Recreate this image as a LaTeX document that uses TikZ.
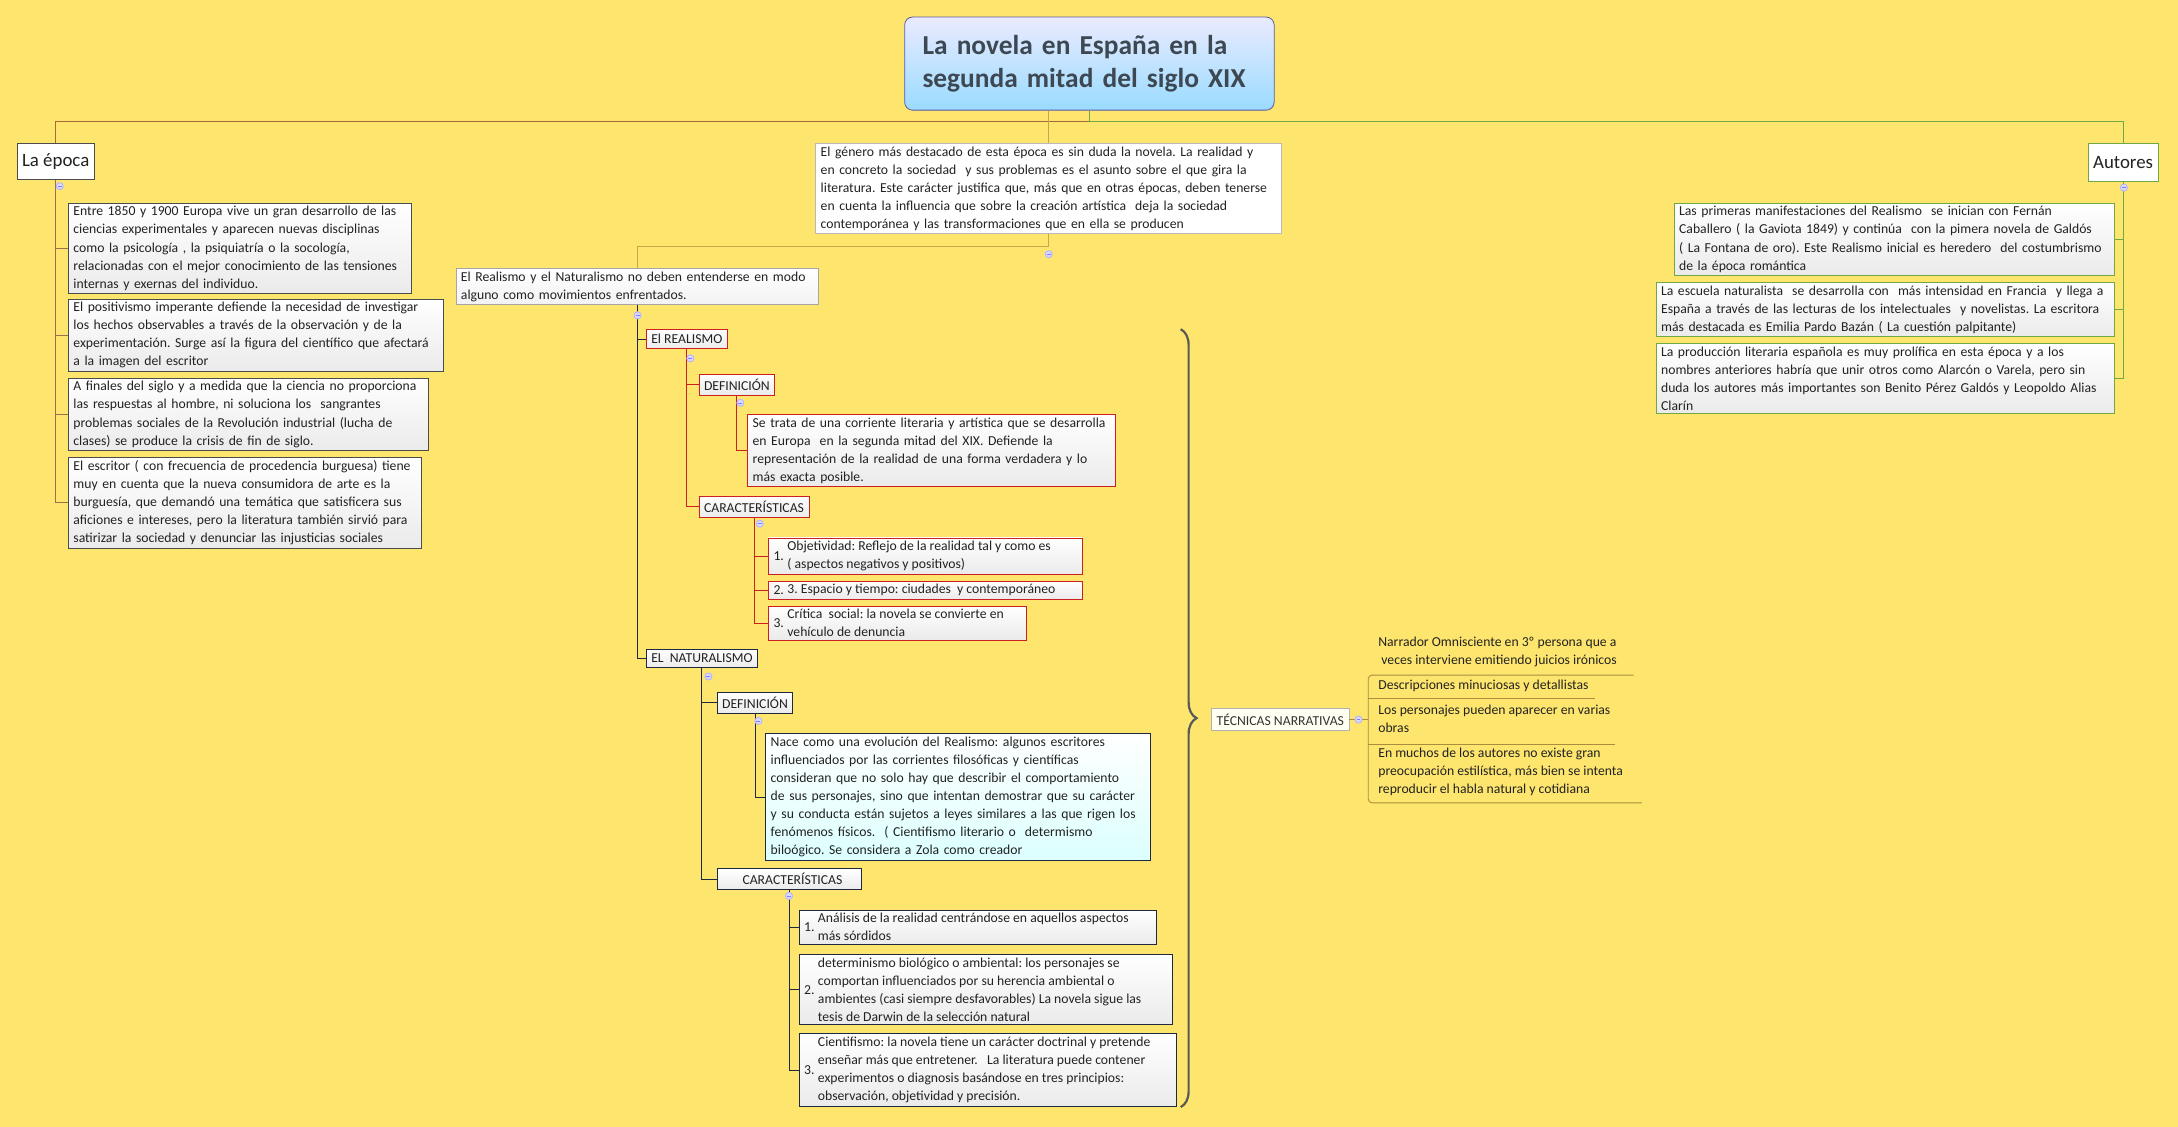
\documentclass[tikz,border=0pt]{standalone}
\usepackage{fontspec}
\setmainfont{Carlito}
\frenchspacing
\usetikzlibrary{decorations.pathreplacing,shadings}
\definecolor{bg}{HTML}{FEE66E}
\definecolor{brn}{HTML}{A8683A}
\definecolor{grn}{HTML}{6FA845}
\definecolor{tan}{HTML}{C9A54A}
\definecolor{rd}{HTML}{CC1F1F}
\definecolor{nv}{HTML}{1E2840}
\definecolor{ttl}{HTML}{3D4853}
\definecolor{txt}{HTML}{222222}
\tikzset{
 bx/.style={draw, anchor=north west, align=left, inner xsep=2.5pt, inner ysep=1.6pt, text=txt,
   font=\fontsize{6.9}{9.1}\selectfont, top color=white, bottom color=gray!16},
 lab/.style={inner ysep=2.4pt},
 ep/.style={bx, draw=gray!60!black},
 au/.style={bx, draw=grn},
 rb/.style={bx, draw=rd},
 nb/.style={bx, draw=nv},
 plain/.style={bx, draw=gray!70, top color=white, bottom color=white},
 lb/.style={draw=brn, line width=0.5pt},
 lg/.style={draw=grn, line width=0.5pt},
 lt/.style={draw=tan, line width=0.5pt},
 lr/.style={draw=rd, line width=0.5pt},
 ln/.style={draw=nv, line width=0.5pt},
 tog/.style={circle, draw=blue!30, fill=blue!15, inner sep=0pt, minimum size=3.6pt,
   path picture={\draw[blue!50, line width=0.3pt] ([xshift=-1pt]path picture bounding box.center) -- ([xshift=1pt]path picture bounding box.center);}},
 tl/.style={draw=tan!85!black, line width=0.45pt, rounded corners=2pt},
}
\newcommand\numit[3]{\parbox[c]{7pt}{#1}\parbox[c]{#2}{#3}}
\begin{document}
\begin{tikzpicture}[x=0.7pt,y=-0.7pt]
\fill[bg] (0,0) rectangle (1568,811);
\useasboundingbox (0,0) rectangle (1568,811);

% title
\node[draw=gray!70!blue, rounded corners=4pt, top color=blue!8, bottom color=blue!35!cyan!40, anchor=north west,
  minimum width=266*0.7pt, minimum height=67*0.7pt, align=left, text=ttl, text width=266*0.7pt-18pt,
  font=\fontsize{13.8}{16.5}\selectfont\bfseries, inner xsep=9pt] (title) at (651,12)
  {La novela en España en la\\segunda mitad del siglo XIX};

% main branches
\node[ep, font=\fontsize{9.5}{11}\selectfont, top color=white, bottom color=white, minimum height=26*0.7pt] (epoca) at (12,103) {La época};
\node[au, font=\fontsize{9.5}{11}\selectfont, top color=white, bottom color=white, minimum height=27*0.7pt] (autores) at (1503,103) {Autores};
\node[plain, draw=gray!55, text width=335*0.7pt-5pt] (central) at (587,103) {El género más destacado de esta época es sin duda la novela. La realidad y\\en concreto la sociedad\ \ y sus problemas es el asunto sobre el que gira la\\literatura. Este carácter justifica que, más que en otras épocas, deben tenerse\\en cuenta la influencia que sobre la creación artística\ \ deja la sociedad\\contemporánea y las transformaciones que en ella se producen};

\draw[lb] (title.south) -- ++(0,8) -| (epoca.north);
\draw[lg] (title.south) -- ++(0,8) -| (autores.north);
\draw[lt] (central.north) -- (central.north |- title.south);

% epoca children
\node[ep, text width=247*0.7pt-5pt] (e1) at (49,146) {Entre 1850 y 1900 Europa vive un gran desarrollo de las\\ciencias experimentales y aparecen nuevas disciplinas\\como la psicología , la psiquiatría o la socología,\\relacionadas con el mejor conocimiento de las tensiones\\internas y exernas del individuo.};
\node[ep, text width=270*0.7pt-5pt] (e2) at (49,215) {El positivismo imperante defiende la necesidad de investigar\\los hechos observables a través de la observación y de la\\experimentación. Surge así la figura del científico que afectará\\a la imagen del escritor};
\node[ep, text width=259*0.7pt-5pt] (e3) at (49,272) {A finales del siglo y a medida que la ciencia no proporciona\\las respuestas al hombre, ni soluciona los\ \ sangrantes\\problemas sociales de la Revolución industrial (lucha de\\clases) se produce la crisis de fin de siglo.};
\node[ep, text width=254*0.7pt-5pt] (e4) at (49,329) {El escritor ( con frecuencia de procedencia burguesa) tiene\\muy en cuenta que la nueva consumidora de arte es la\\burguesía, que demandó una temática que satisficera sus\\aficiones e intereses, pero la literatura también sirvió para\\satirizar la sociedad y denunciar las injusticias sociales};
\foreach \n in {e1,e2,e3,e4} \draw[lb, draw=brn!70!gray] (epoca.south) |- (\n.west);

% autores children
\node[au, text width=317*0.7pt-5pt] (a1) at (1205,146) {Las primeras manifestaciones del Realismo\ \ se inician con Fernán\\Caballero ( la Gaviota 1849) y continúa\ \ con la pimera novela de Galdós\\( La Fontana de oro). Este Realismo inicial es heredero\ \ del costumbrismo\\de la época romántica};
\node[au, text width=330*0.7pt-5pt] (a2) at (1192,203) {La escuela naturalista\ \ se desarrolla con\ \ más intensidad en Francia\ \ y llega a\\España a través de las lecturas de los intelectuales\ \ y novelistas. La escritora\\más destacada es Emilia Pardo Bazán ( La cuestión palpitante)};
\node[au, text width=330*0.7pt-5pt] (a3) at (1192,247) {La producción literaria española es muy prolífica en esta época y a los\\nombres anteriores habría que unir otros como Alarcón o Varela, pero sin\\duda los autores más importantes son Benito Pérez Galdós y Leopoldo Alias\\Clarín};
\foreach \n in {a1,a2,a3} \draw[lg] (autores.south) |- (\n.east);

% realismo / naturalismo
\node[plain, text width=261*0.7pt-5pt, top color=white, bottom color=gray!10] (rn) at (328,193) {El Realismo y el Naturalismo no deben entenderse en modo\\alguno como movimientos enfrentados.};
\draw[lt] (central.south) -- ++(0,9) -| (rn.north);

\node[rb, lab] (real) at (465,237) {El REALISMO};
\node[nb, lab] (nat) at (465,467) {EL\ \ NATURALISMO};
\draw[ln] (rn.south) |- (real.west);
\draw[ln] (rn.south) |- (nat.west);

\node[rb, lab] (d1) at (503,269) {DEFINICIÓN};
\node[rb, lab] (c1) at (503,357) {CARACTERÍSTICAS};
\draw[lr] (real.south) |- (d1.west);
\draw[lr] (real.south) |- (c1.west);
\node[rb, text width=265*0.7pt-5pt] (d1t) at (538,298) {Se trata de una corriente literaria y artística que se desarrolla\\en Europa\ \ en la segunda mitad del XIX. Defiende la\\representación de la realidad de una forma verdadera y lo\\más exacta posible.};
\draw[lr] (d1.south) |- (d1t.west);
\node[rb] (r1) at (553,387) {\numit{1.}{146pt}{Objetividad: Reflejo de la realidad tal y como es\\( aspectos negativos y positivos)}};
\node[rb] (r2) at (553,418) {\numit{2.}{146pt}{3. Espacio y tiempo: ciudades\ \ y contemporáneo}};
\node[rb] (r3) at (553,436) {\numit{3.}{118pt}{Crítica\ \ social: la novela se convierte en\\vehículo de denuncia}};
\foreach \n in {r1,r2,r3} \draw[lr] (c1.south) |- (\n.west);

\node[nb, lab] (d2) at (516,498) {DEFINICIÓN};
\node[nb, lab, minimum width=104*0.7pt] (c2) at (516,625) {\ \ CARACTERÍSTICAS};
\draw[ln] (nat.south) |- (d2.west);
\draw[ln] (nat.south) |- (c2.west);
\node[nb, text width=277*0.7pt-5pt, top color=white, bottom color=cyan!14!white] (d2t) at (551,528) {Nace como una evolución del Realismo: algunos escritores\\influenciados por las corrientes filosóficas y científicas\\consideran que no solo hay que describir el comportamiento\\de sus personajes, sino que intentan demostrar que su carácter\\y su conducta están sujetos a leyes similares a las que rigen los\\fenómenos físicos.\ \ ( Cientifismo literario o\ \ determismo\\biloógico. Se considera a Zola como creador};
\draw[ln] (d2.south) |- (d2t.west);
\node[nb] (n1) at (575,655) {\numit{1.}{168pt}{Análisis de la realidad centrándose en aquellos aspectos\\más sórdidos}};
\node[nb] (n2) at (575,687) {\numit{2.}{176pt}{determinismo biológico o ambiental: los personajes se\\comportan influenciados por su herencia ambiental o\\ambientes (casi siempre desfavorables) La novela sigue las\\\ tesis de Darwin de la selección natural}};
\node[nb] (n3) at (575,744) {\numit{3.}{178pt}{Cientifismo: la novela tiene un carácter doctrinal y pretende\\enseñar más que entretener.\ \ \ La literatura puede contener\\experimentos o diagnosis basándose en tres principios:\\observación, objetividad y precisión.}};
\foreach \n in {n1,n2,n3} \draw[ln] (c2.south) |- (\n.west);

% brace and técnicas
\draw[gray!70!black, line width=1.1pt, decorate, decoration={brace, amplitude=8pt}] (850,237) -- (850,797);
\node[plain, draw=gray!60, top color=white!95!yellow, bottom color=white!95!yellow, anchor=west, text=gray!40!black, inner ysep=2.6pt] (tec) at (872,518) {TÉCNICAS NARRATIVAS};
\node[anchor=north west, align=left, inner sep=0pt, text=txt, font=\fontsize{6.9}{9.1}\selectfont] (t1) at (992,458) {Narrador Omnisciente en 3º persona que a\\\ veces interviene emitiendo juicios irónicos};
\node[anchor=north west, align=left, inner sep=0pt, text=txt, font=\fontsize{6.9}{9.1}\selectfont] (t2) at (992,489) {Descripciones minuciosas y detallistas};
\node[anchor=north west, align=left, inner sep=0pt, text=txt, font=\fontsize{6.9}{9.1}\selectfont] (t3) at (992,507) {Los personajes pueden aparecer en varias\\obras};
\node[anchor=north west, align=left, inner sep=0pt, text=txt, font=\fontsize{6.9}{9.1}\selectfont] (t4) at (992,538) {En muchos de los autores no existe gran\\preocupación estilística, más bien se intenta\\reproducir el habla natural y cotidiana};
\draw[tl] (tec.east) -- (985,518);
\draw[tl] (1176,486) -- (985,486) -- (985,578) -- (1182,578);
\draw[tl] (985,503) -- (1148,503);
\draw[tl] (985,536) -- (1163,536);

% toggles
\foreach \p in {(43,134),(1529,135),(755,183),(459,227),(497,258),(533,290),(547,377),(510,487),(546,519),(568,645),(978,518)}
  \node[tog] at \p {};
\end{tikzpicture}
\end{document}
